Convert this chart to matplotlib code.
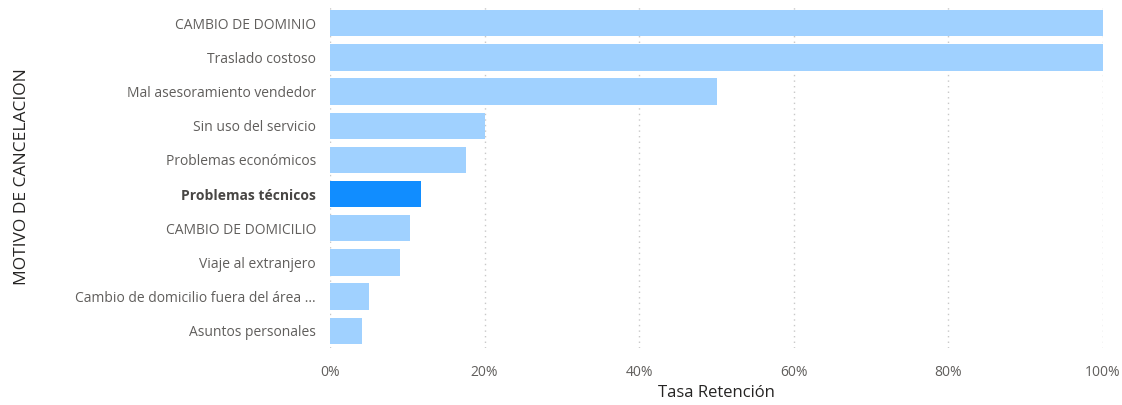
import matplotlib
matplotlib.use('Agg')
import matplotlib.pyplot as plt
from matplotlib.ticker import PercentFormatter

# data
motivos = ['CAMBIO DE DOMINIO', 'Traslado costoso', 'Mal asesoramiento vendedor',
           'Sin uso del servicio', 'Problemas económicos', 'Problemas técnicos',
           'CAMBIO DE DOMICILIO', 'Viaje al extranjero',
           'Cambio de domicilio fuera del área ...', 'Asuntos personales']
tasa = [100.0, 100.0, 50.0, 20.0, 17.6, 11.8, 10.3, 9.1, 5.0, 4.2]
destacado = 'Problemas técnicos'
x_ticks = [0, 20, 40, 60, 80, 100]

plt.rcParams['font.family'] = ['Open Sans', 'DejaVu Sans']

fig = plt.figure(figsize=(11.22, 4.05), dpi=100)
ax = fig.add_axes([0.2941, 0.141, 0.689, 0.844])

colors = ['#118dff' if m == destacado else '#a0d1ff' for m in motivos]
pos = list(range(len(motivos)))
ax.barh(pos, tasa, height=0.77, color=colors, zorder=3)

ax.set_ylim(len(motivos) - 0.5, -0.5)
ax.set_xlim(0, 100)
ax.set_xticks(x_ticks)
ax.xaxis.set_major_formatter(PercentFormatter(decimals=0))

ax.tick_params(axis='y', length=0, pad=10, labelsize=10)
ax.tick_params(axis='x', length=0, pad=12, labelsize=10, labelcolor='#605e5c')

ax.set_yticks(pos)
ax.set_yticklabels(motivos)
for lbl in ax.get_yticklabels():
    lbl.set_color('#605e5c')
    if lbl.get_text() == destacado:
        lbl.set_fontweight('bold')
        lbl.set_color('#484644')

ax.grid(axis='x', linestyle=(0, (1, 3)), color='#c8c8c8', linewidth=1, zorder=0)
for s in ax.spines.values():
    s.set_visible(False)

ax.set_xlabel('Tasa Retención', fontsize=12, color='#252423', labelpad=4)
ax.set_ylabel('MOTIVO DE CANCELACION', fontsize=12.5, color='#252423')
ax.yaxis.set_label_coords(-0.388, 0.5)

fig.savefig('out.png', dpi=100)
